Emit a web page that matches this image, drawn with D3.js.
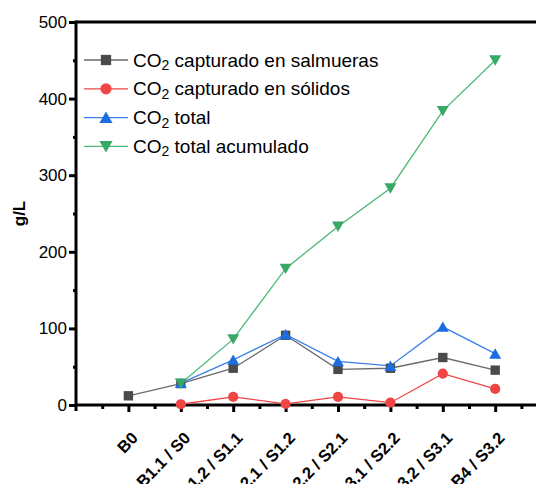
<!DOCTYPE html>
<html><head><meta charset="utf-8">
<script src="https://cdn.jsdelivr.net/npm/d3@7"></script>
<style>body{margin:0;background:#fff}svg{display:block}</style>
</head><body><div id="chart"></div>
<script>
const categories = ["B0","B1.1 / S0","B1.2 / S1.1","B2.1 / S1.2","B2.2 / S2.1","B3.1 / S2.2","B3.2 / S3.1","B4 / S3.2"];
const salmueras = [12, 28, 48, 91, 46.5, 48, 62, 45.5];
const solidos = [null, 1, 10.5, 1.5, 10.5, 3, 41, 21];
const total = [null, 28.5, 59, 92, 57, 51, 102, 67];
const acumulado = [null, 28, 86, 178, 233, 283, 384, 450];
const yTicks = [0,100,200,300,400,500];
const seriesNames = ["capturado en salmueras","capturado en sólidos","total","total acumulado"];

const W=536,H=484;
const svg=d3.select("#chart").append("svg").attr("width",W).attr("height",H)
  .style("font-family","'Liberation Sans', Arial, sans-serif");
const x=d3.scaleLinear().domain([-1,8]).range([76,547.6]);
const y=d3.scaleLinear().domain([0,500]).range([405,22]);

// frame/axes
const ax=svg.append("g");
ax.append("line").attr("x1",x(-1)).attr("x2",x(8)).attr("y1",y(500)).attr("y2",y(500)).attr("stroke","#000").attr("stroke-width",3);
ax.append("line").attr("x1",x(-1)).attr("x2",x(8)).attr("y1",y(0)).attr("y2",y(0)).attr("stroke","#000").attr("stroke-width",3);
ax.append("line").attr("x1",x(-1)).attr("x2",x(-1)).attr("y1",y(500)-1.5).attr("y2",y(0)+6).attr("stroke","#000").attr("stroke-width",3);

// y ticks
const yAxis=d3.axisLeft(y).tickValues(yTicks).tickSize(7).tickFormat(d3.format("d"));
const gy=svg.append("g").attr("transform",`translate(${x(-1)},0)`).call(yAxis);
gy.select(".domain").remove();
gy.selectAll(".tick line").attr("stroke-width",3);
gy.selectAll(".tick text").attr("font-size",17).attr("fill","#000").attr("x",-9);
const gym=svg.append("g").attr("transform",`translate(${x(-1)},0)`)
  .call(d3.axisLeft(y).tickValues([50,150,250,350,450]).tickSize(3).tickFormat(""));
gym.select(".domain").remove();
gym.selectAll(".tick line").attr("stroke-width",3);

// x ticks
const xIdx=categories.map((c,i)=>i);
const gx=svg.append("g").attr("transform",`translate(0,${y(0)})`)
  .call(d3.axisBottom(x).tickValues(xIdx).tickSize(7).tickFormat(i=>categories[i]));
gx.select(".domain").remove();
gx.selectAll(".tick line").attr("stroke-width",3);
gx.selectAll(".tick text").attr("font-size",16.5).attr("font-weight","bold").attr("fill","#000")
  .attr("text-anchor","end").attr("dy",0).attr("y",0)
  .attr("transform","translate(10,34) rotate(-46)");
const gxm=svg.append("g").attr("transform",`translate(0,${y(0)})`)
  .call(d3.axisBottom(x).tickValues([-0.5,0.5,1.5,2.5,3.5,4.5,5.5,6.5,7.5]).tickSize(4).tickFormat(""));
gxm.select(".domain").remove();
gxm.selectAll(".tick line").attr("stroke-width",3);

// y label
svg.append("text").attr("transform","translate(25,"+y(250)+") rotate(-90)")
  .attr("text-anchor","middle").attr("font-size",17).attr("font-weight","bold").text("g/L");

const series=[
  {data:salmueras,color:"#4a4a4a",line:"#6a6a6a",sym:d3.symbolSquare,size:88,rot:0},
  {data:solidos,color:"#f04545",line:"#f04545",sym:d3.symbolCircle,size:82,rot:0},
  {data:total,color:"#1f6be0",line:"#3a80e8",sym:d3.symbolTriangle,size:62,rot:0},
  {data:acumulado,color:"#37a865",line:"#4cb878",sym:d3.symbolTriangle,size:62,rot:180}
];
const line=d3.line().defined(d=>d[1]!=null).x(d=>x(d[0])).y(d=>y(d[1]));
series.forEach(s=>{
  const pts=s.data.map((v,i)=>[i,v]);
  svg.append("path").datum(pts).attr("d",line).attr("fill","none").attr("stroke",s.line).attr("stroke-width",1.3);
});
const off=s=>s.sym===d3.symbolTriangle?(s.rot?-1.5:1.5):0;
series.forEach(s=>{
  const pts=s.data.map((v,i)=>[i,v]).filter(d=>d[1]!=null);
  svg.selectAll(null).data(pts).enter().append("path")
    .attr("d",d3.symbol().type(s.sym).size(s.size))
    .attr("transform",d=>`translate(${x(d[0])},${y(d[1])+off(s)}) rotate(${s.rot})`)
    .attr("fill",s.color);
});

// legend
const leg=svg.append("g");
series.forEach((s,i)=>{
  const ly=60+i*28.8;
  leg.append("line").attr("x1",84).attr("x2",128).attr("y1",ly).attr("y2",ly).attr("stroke",s.line).attr("stroke-width",1.3);
  leg.append("path").attr("d",d3.symbol().type(s.sym).size(s.size*1.2))
    .attr("transform",`translate(106,${ly+off(s)}) rotate(${s.rot})`).attr("fill",s.color);
  const t=leg.append("text").attr("x",133).attr("y",ly+6.5).attr("font-size",19).attr("fill","#000");
  t.append("tspan").text("CO");
  t.append("tspan").attr("font-size",14).attr("dy",3.5).text("2");
  t.append("tspan").attr("dy",-3.5).text(" "+seriesNames[i]);
});
</script></body></html>
